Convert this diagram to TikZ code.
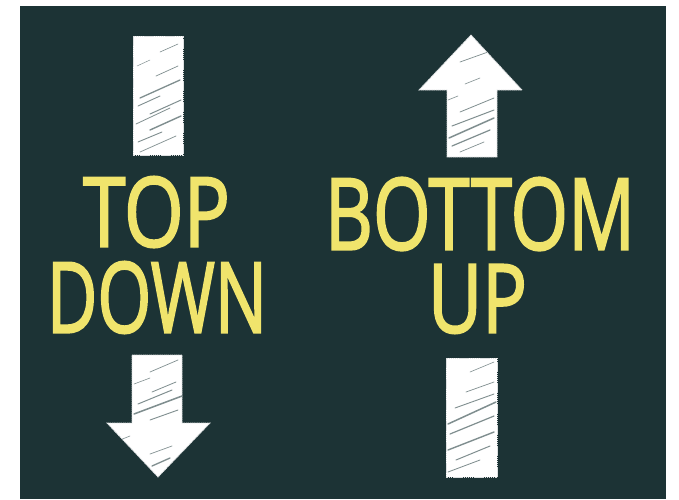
\documentclass[tikz,border=0pt]{standalone}
\usepackage{fontspec}
\newfontfamily\chalkfont{Open Sans}[FakeBold=2.2]
\usepackage{graphicx}
\definecolor{board}{HTML}{1C3335}
\definecolor{chalkyellow}{HTML}{F0E46C}
\definecolor{streakcol}{HTML}{4A5F60}
\begin{document}
\begin{tikzpicture}[x=1pt,y=-1pt,
  chalk/.style={fill=white,draw=white!85!board,line width=0.8pt,dash pattern=on 1.5pt off 0.6pt},
  streak/.style={draw=streakcol,line width=#1,line cap=round,opacity=0.7},
  streak/.default=1.2pt,
  word/.style={inner sep=0pt,text=chalkyellow,font=\chalkfont}]
\useasboundingbox (0,0) rectangle (679,499);
\fill[board] (20,6) rectangle (666,499);

% top-left bar
\path[chalk] (133,36) rectangle (183,155);
\begin{scope}
\clip (133,36) rectangle (183,155);
\foreach \xa/\ya/\xb/\yb/\w in {160/52/178/44/0.6pt, 137/66/150/60/0.5pt, 156/76/178/66/0.7pt,
  140/98/180/80/1.3pt, 138/106/160/96/0.9pt, 150/114/181/100/1.0pt, 136/124/170/108/0.8pt,
  150/130/181/116/1.4pt, 138/142/162/132/0.9pt, 140/152/176/136/0.7pt}
  \draw[streak=\w] (\xa,\ya) -- (\xb,\yb);
\end{scope}

% up arrow (top right)
\path[chalk] (471,35) -- (522,90) -- (497,90) -- (497,157) -- (447,157) -- (447,90) -- (419,90) -- cycle;
\begin{scope}
\clip (471,35) -- (522,90) -- (497,90) -- (497,157) -- (447,157) -- (447,90) -- (419,90) -- cycle;
\foreach \xa/\ya/\xb/\yb/\w in {460/62/488/52/0.7pt, 465/84/480/78/0.6pt, 448/100/458/96/0.6pt,
  460/112/494/98/0.8pt, 452/126/494/110/1.0pt, 449/138/494/118/1.5pt, 452/146/490/130/1.2pt,
  460/152/484/142/0.7pt}
  \draw[streak=\w] (\xa,\ya) -- (\xb,\yb);
\end{scope}

% down arrow (bottom left)
\path[chalk] (132,355) -- (182,355) -- (182,423) -- (210,423) -- (158,477) -- (107,423) -- (132,423) -- cycle;
\begin{scope}
\clip (132,355) -- (182,355) -- (182,423) -- (210,423) -- (158,477) -- (107,423) -- (132,423) -- cycle;
\foreach \xa/\ya/\xb/\yb/\w in {150/372/178/360/0.7pt, 134/384/150/378/0.6pt, 152/392/176/382/0.8pt,
  138/404/172/390/1.0pt, 134/414/182/396/1.5pt, 150/420/178/410/0.9pt, 120/440/130/436/0.6pt,
  150/454/172/446/0.7pt, 152/466/170/458/1.3pt}
  \draw[streak=\w] (\xa,\ya) -- (\xb,\yb);
\end{scope}

% bottom-right bar
\path[chalk] (446,358) rectangle (497,477);
\begin{scope}
\clip (446,358) rectangle (497,477);
\foreach \xa/\ya/\xb/\yb/\w in {470/372/494/362/0.6pt, 466/392/494/382/0.7pt, 455/408/494/394/0.9pt,
  448/424/496/402/1.5pt, 450/434/494/416/1.2pt, 448/450/494/432/1.4pt, 456/460/490/446/1.0pt,
  448/472/480/460/0.8pt}
  \draw[streak=\w] (\xa,\ya) -- (\xb,\yb);
\end{scope}

% words
\node[word] (top)    at (156.5,212)   {\resizebox{147pt}{70pt}{TOP}};
\node[word] (down)   at (157,297.5)   {\resizebox{220pt}{71pt}{DOWN}};
\node[word] (bottom) at (480,214)     {\resizebox{310pt}{72pt}{BOTTOM}};
\node[word] (up)     at (477.5,299)   {\resizebox{99pt}{68pt}{UP}};
\end{tikzpicture}
\end{document}
